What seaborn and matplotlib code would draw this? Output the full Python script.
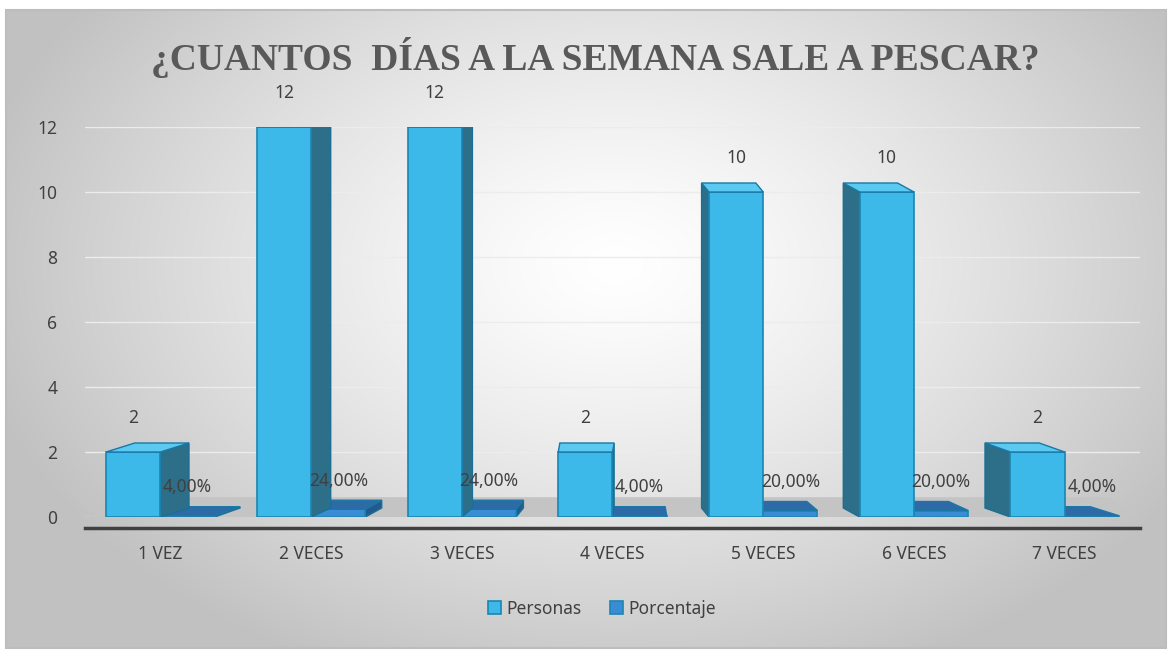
import numpy as np
import pandas as pd
import matplotlib
matplotlib.use("Agg")
import matplotlib.pyplot as plt
from matplotlib.patches import Polygon, Rectangle
import seaborn as sns

# datos del grafico
categorias = ["1 VEZ", "2 VECES", "3 VECES", "4 VECES", "5 VECES", "6 VECES", "7 VECES"]
personas = [2, 12, 12, 2, 10, 10, 2]
porcentaje = [0.04, 0.24, 0.24, 0.04, 0.20, 0.20, 0.04]
series = ["Personas", "Porcentaje"]
yticks = [0, 2, 4, 6, 8, 10, 12]

df = pd.DataFrame({
    "dias": categorias * 2,
    "valor": personas + porcentaje,
    "serie": [series[0]] * len(categorias) + [series[1]] * len(categorias),
})

sns.set_style("white")
plt.rcParams["font.family"] = ["Noto Sans", "DejaVu Sans"]

fig = plt.figure(figsize=(11.72, 6.51), dpi=100)
fig.patch.set_facecolor("white")

# fondo gris con degradado radial
bg = fig.add_axes([0.005, 0.004, 0.99, 0.981], zorder=-10)
gx, gy = np.meshgrid(np.linspace(-1, 1, 400), np.linspace(-1, 1, 220))
r = np.sqrt(((gx - 0.05) / 1.05) ** 2 + ((gy + 0.2) / 1.3) ** 2)
g = np.clip(1.0 - 0.22 * r ** 1.3, 0.76, 1.0)
bg.imshow(np.dstack([g, g, g]), aspect="auto", extent=[0, 1, 0, 1], interpolation="bicubic")
bg.set_axis_off()
fig.patches.append(Rectangle((0.005, 0.004), 0.99, 0.981, transform=fig.transFigure,
                             fill=False, edgecolor="#bdbdbd", linewidth=1.5))

ax = fig.add_axes([85 / 1172, 134 / 651, 1055 / 1172, 390 / 651])
ax.set_facecolor("none")

colores = {"Personas": "#3cb9e8", "Porcentaje": "#3a8cd4"}
sns.barplot(data=df, x="dias", y="valor", hue="serie", palette=colores, width=0.72,
            saturation=1, edgecolor="#1a86b4", linewidth=1.2, ax=ax, zorder=3)

ax.set_xlim(-0.5, 6.5)
ax.set_ylim(0, 12)
ax.set_yticks(yticks)
ax.grid(axis="y", color="#ececec", linewidth=1, zorder=0)
ax.set_xlabel("")
ax.set_ylabel("")
for s in ["top", "right", "left"]:
    ax.spines[s].set_visible(False)
ax.spines["bottom"].set_color("#404040")
ax.spines["bottom"].set_linewidth(2.5)
ax.spines["bottom"].set_position(("outward", 8))
ax.tick_params(axis="y", length=0, pad=20, labelsize=12.5, labelcolor="#404040")
ax.tick_params(axis="x", length=0, pad=12, labelsize=12.5, labelcolor="#404040")

# profundidad en perspectiva (pixeles -> unidades de datos)
fig.canvas.draw()
bb = ax.get_window_extent()
px_x = 7 / bb.width
px_y = 12 / bb.height
centro = 3.0
dy = 9 * px_y


def desplaz(x):
    # las caras de fondo se acercan al centro del grafico
    return (centro - x) * 9 * px_x


# piso gris
x0, x1 = ax.get_xlim()
ax.add_patch(Polygon([(x0 + 0.03, 0), (x1, 0), (x1 + desplaz(x1), dy * 2.2), (x0 + desplaz(x0), dy * 2.2)],
                     closed=True, facecolor="#c4c4c4", edgecolor="none", zorder=1))

# caras de arriba y laterales; la serie Porcentaje queda detras de Personas
lados = {"Personas": ("#5cc9f0", "#2d6f88"), "Porcentaje": ("#2e6aa6", "#235a8e")}
capas = {"Personas": (3.0, 3.2, 2.8), "Porcentaje": (2.3, 2.4, 2.2)}
for cont, serie in zip(ax.containers, series):
    top_c, side_c = lados[serie]
    z_front, z_top, z_side = capas[serie]
    for p in cont.patches:
        p.set_zorder(z_front)
        bx, bw, bh = p.get_x(), p.get_width(), p.get_height()
        d = desplaz(bx + bw / 2)
        ax.add_patch(Polygon([(bx, bh), (bx + bw, bh), (bx + bw + d, bh + dy), (bx + d, bh + dy)],
                             closed=True, facecolor=top_c, edgecolor="#1a78a6", linewidth=1.0, zorder=z_top))
        lx = bx + bw if d > 0 else bx
        ax.add_patch(Polygon([(lx, 0), (lx + d, dy), (lx + d, bh + dy), (lx, bh)],
                             closed=True, facecolor=side_c, edgecolor="#1a6f96", linewidth=1.0, zorder=z_side))

# etiquetas de datos
ax.bar_label(ax.containers[0], labels=[str(v) for v in personas], padding=18,
             fontsize=12.5, color="#404040", zorder=7)
ax.bar_label(ax.containers[1], labels=[f"{v * 100:.2f}%".replace(".", ",") for v in porcentaje],
             padding=14, fontsize=12.5, color="#404040", zorder=7)

sns.move_legend(ax, "center", bbox_to_anchor=(0.49, -0.235), ncol=2, frameon=False, title=None,
                fontsize=12.5, handlelength=0.75, handleheight=0.75, handletextpad=0.35,
                columnspacing=1.6, labelcolor="#404040")

fig.text(0.508, 0.912, "¿CUANTOS  DÍAS A LA SEMANA SALE A PESCAR?", ha="center", va="center",
         fontsize=27, fontweight="bold", color="#595959", family="Liberation Serif")

fig.savefig("out.png", dpi=100)
